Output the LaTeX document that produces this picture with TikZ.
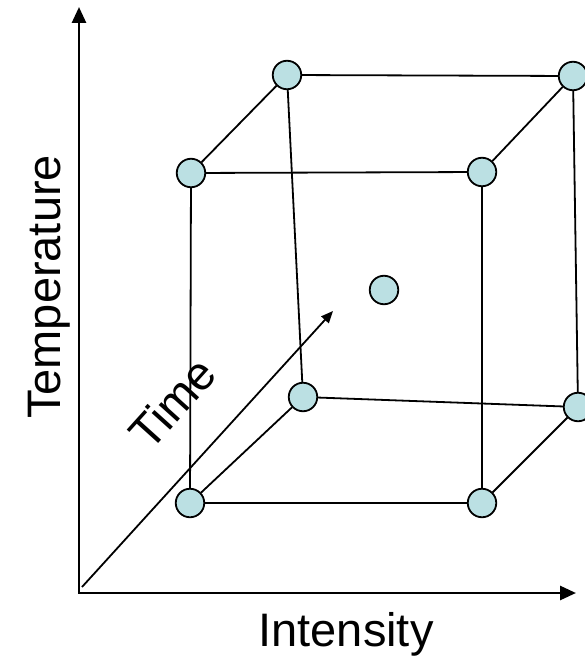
\documentclass[tikz,border=0pt]{standalone}
\usepackage{fontspec}
\setmainfont{Liberation Sans}
\usepackage{xcolor}
\usepackage{tikz}
\usetikzlibrary{
    arrows.meta
}
\definecolor{vertexfill}{HTML}{BBE0E3}
\tikzset{
    vertex/.style={
        circle, draw=black, fill=vertexfill,
        line width=1.8pt, minimum size=28.5pt, inner sep=0pt
    },
    cube edge/.style={
        line width=1.8pt, color=black
    },
    axis line/.style={
        {Triangle[length=16pt, width=14pt]}-{Triangle[length=16pt, width=14pt]},
        line width=2.7pt, line join=miter
    },
    time line/.style={
        -{Triangle[length=12pt, width=10pt]}, line width=1.8pt
    },
    axis label/.style={
        font=\fontsize{47}{56}\selectfont, inner sep=0pt
    },
}

\begin{document}
\begin{tikzpicture}[x=1pt, y=-1pt]

    \useasboundingbox (0,0) rectangle (584,658);

    % Axes
    \coordinate (origin) at (79,593);
    \coordinate (temptip) at (79,7);
    \coordinate (inttip) at (576,593);
    \coordinate (timestart) at (82,587);
    \coordinate (timetip) at (333,311);

    \draw[axis line] (temptip) -- (origin) -- (inttip);
    \draw[time line] (timestart) -- (timetip);

    % Front face
    \node[vertex] (ftl) at (191,173) {};
    \node[vertex] (ftr) at (482,172) {};
    \node[vertex] (fbl) at (190,503) {};
    \node[vertex] (fbr) at (482,503) {};

    % Back face
    \node[vertex] (btl) at (287,75) {};
    \node[vertex] (btr) at (573,76) {};
    \node[vertex] (bbl) at (303,397) {};
    \node[vertex] (bbr) at (578,407) {};

    % Centre point
    \node[vertex] (mid) at (384,290) {};

    \draw[cube edge] (ftl) -- (ftr) -- (fbr) -- (fbl) -- (ftl);
    \draw[cube edge] (btl) -- (btr);
    \draw[cube edge] (btr) -- (bbr);
    \draw[cube edge] (bbr) -- (bbl);
    \draw[cube edge] (bbl) -- (btl);
    \draw[cube edge] (ftl) -- (btl);
    \draw[cube edge] (ftr) -- (btr);
    \draw[cube edge] (fbl) -- (bbl);
    \draw[cube edge] (fbr) -- (bbr);

    % Labels
    \node[axis label, rotate=90, anchor=base] (templabel) at (60,287) {Temperature};
    \node[axis label, anchor=base] (intlabel) at (346,646) {Intensity};
    \node[axis label, rotate=48] (timelabel) at (172,403) {Time};

\end{tikzpicture}
\end{document}
